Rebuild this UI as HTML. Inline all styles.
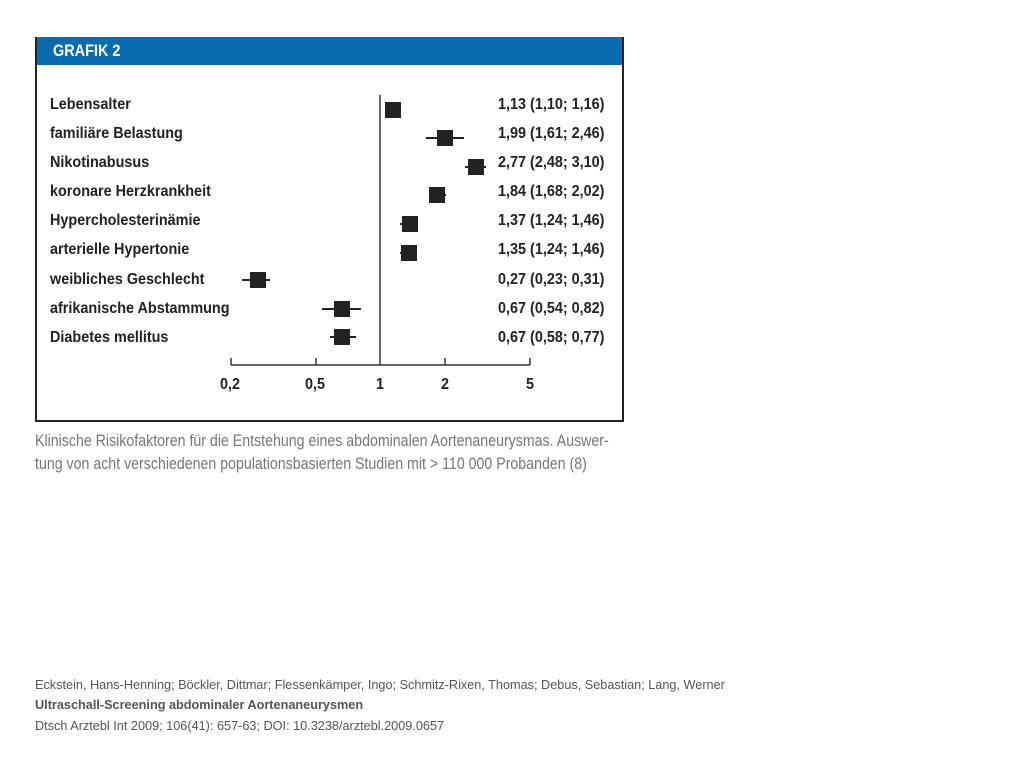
<!DOCTYPE html>
<html><head><meta charset="utf-8"><style>
body{margin:0;width:1024px;height:768px;background:#fff;position:relative;overflow:hidden;font-family:"Liberation Sans",sans-serif}
.box{position:absolute;left:35px;top:37px;width:585px;height:383px;border:2px solid #222;border-top:none}
.hdr{position:absolute;left:35px;top:37px;width:589px;height:28px;background:#0a6cb0}
.hdr span{position:absolute;left:18px;top:4px;color:#fff;font-weight:bold;font-size:17px;transform:scaleX(0.85);transform-origin:left}
.t{position:absolute;white-space:nowrap;font-weight:bold;font-size:16px;color:#222;transform:scaleX(0.9);transform-origin:left}
.cap{position:absolute;left:35px;font-size:17px;color:#777;white-space:nowrap;transform:scaleX(0.834);transform-origin:left}
.ft{position:absolute;left:35px;font-size:12.7px;color:#555;white-space:nowrap}
</style></head><body>
<div class="hdr"><span>GRAFIK 2</span></div>
<div class="box"></div>
<svg width="1024" height="768" style="position:absolute;left:0;top:0">
<g stroke="#333" stroke-width="1.5" fill="none">
<line x1="380" y1="95" x2="380" y2="365"/>
<line x1="231" y1="365" x2="530" y2="365"/>
<line x1="231" y1="358" x2="231" y2="365"/><line x1="316" y1="358" x2="316" y2="365"/>
<line x1="445" y1="358" x2="445" y2="365"/><line x1="530" y1="358" x2="530" y2="365"/>
</g>
<g stroke="#222" stroke-width="2">
<line x1="426" y1="138" x2="464" y2="138"/>
<line x1="465" y1="167" x2="486" y2="167"/>
<line x1="429" y1="195" x2="446" y2="195"/>
<line x1="400" y1="224" x2="416" y2="224"/>
<line x1="400" y1="253" x2="416" y2="253"/>
<line x1="242" y1="280" x2="270" y2="280"/>
<line x1="322" y1="309" x2="361" y2="309"/>
<line x1="330" y1="337" x2="356" y2="337"/>
</g>
<g fill="#222">
<rect x="385" y="102" width="16" height="16"/>
<rect x="437" y="130" width="16" height="16"/>
<rect x="468" y="159" width="16" height="16"/>
<rect x="429" y="187" width="16" height="16"/>
<rect x="402" y="216" width="16" height="16"/>
<rect x="401" y="245" width="16" height="16"/>
<rect x="250" y="272" width="16" height="16"/>
<rect x="334" y="301" width="16" height="16"/>
<rect x="334" y="329" width="16" height="16"/>
</g>
</svg>
<div class="t" style="left:50px;top:96px">Lebensalter</div>
<div class="t" style="left:50px;top:125px">familiäre Belastung</div>
<div class="t" style="left:50px;top:154px">Nikotinabusus</div>
<div class="t" style="left:50px;top:183px">koronare Herzkrankheit</div>
<div class="t" style="left:50px;top:212px">Hypercholesterinämie</div>
<div class="t" style="left:50px;top:241px">arterielle Hypertonie</div>
<div class="t" style="left:50px;top:271px">weibliches Geschlecht</div>
<div class="t" style="left:50px;top:300px">afrikanische Abstammung</div>
<div class="t" style="left:50px;top:329px">Diabetes mellitus</div>
<div class="t" style="left:498px;top:96px">1,13 (1,10; 1,16)</div>
<div class="t" style="left:498px;top:125px">1,99 (1,61; 2,46)</div>
<div class="t" style="left:498px;top:154px">2,77 (2,48; 3,10)</div>
<div class="t" style="left:498px;top:183px">1,84 (1,68; 2,02)</div>
<div class="t" style="left:498px;top:212px">1,37 (1,24; 1,46)</div>
<div class="t" style="left:498px;top:241px">1,35 (1,24; 1,46)</div>
<div class="t" style="left:498px;top:271px">0,27 (0,23; 0,31)</div>
<div class="t" style="left:498px;top:300px">0,67 (0,54; 0,82)</div>
<div class="t" style="left:498px;top:329px">0,67 (0,58; 0,77)</div>
<div class="t" style="left:220px;top:376px">0,2</div>
<div class="t" style="left:305px;top:376px">0,5</div>
<div class="t" style="left:376px;top:376px">1</div>
<div class="t" style="left:441px;top:376px">2</div>
<div class="t" style="left:526px;top:376px">5</div>
<div class="cap" style="top:431px">Klinische Risikofaktoren für die Entstehung eines abdominalen Aortenaneurysmas. Auswer-</div>
<div class="cap" style="top:454px">tung von acht verschiedenen populationsbasierten Studien mit &gt; 110 000 Probanden (8)</div>
<div class="ft" style="top:678px">Eckstein, Hans-Henning; Böckler, Dittmar; Flessenkämper, Ingo; Schmitz-Rixen, Thomas; Debus, Sebastian; Lang, Werner</div>
<div class="ft" style="top:698px;font-weight:bold">Ultraschall-Screening abdominaler Aortenaneurysmen</div>
<div class="ft" style="top:719px">Dtsch Arztebl Int 2009; 106(41): 657-63; DOI: 10.3238/arztebl.2009.0657</div>
</body></html>
